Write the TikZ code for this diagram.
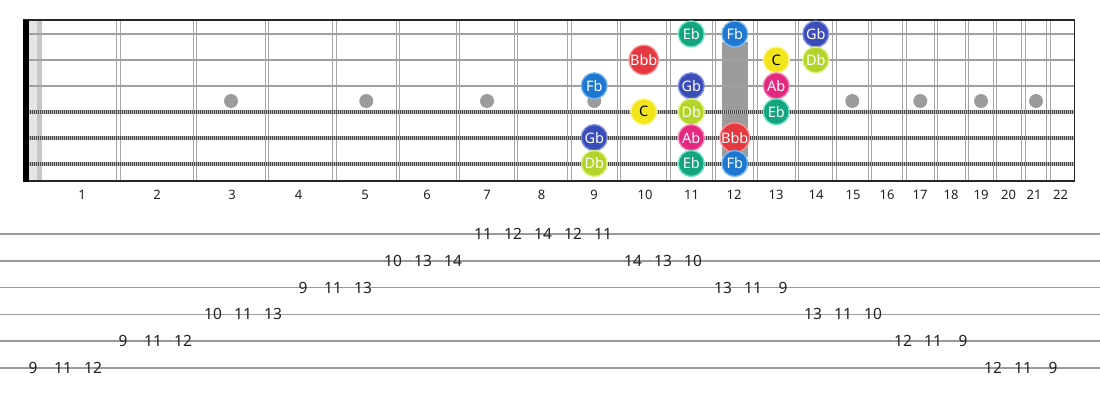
\documentclass[tikz,border=0pt]{standalone}
\usepackage{fontspec}
\setmainfont{Noto Sans}
\definecolor{ebc}{HTML}{14A57E}\definecolor{ebr}{HTML}{6FE6C6}
\definecolor{fbc}{HTML}{1E78D2}\definecolor{fbr}{HTML}{7DBAF2}
\definecolor{gbc}{HTML}{3B4DB8}\definecolor{gbr}{HTML}{8593E2}
\definecolor{bbbc}{HTML}{E5383F}\definecolor{bbbr}{HTML}{F7979A}
\definecolor{cc}{HTML}{F3E51C}\definecolor{cr}{HTML}{FFF69A}
\definecolor{dbc}{HTML}{B3D52B}\definecolor{dbr}{HTML}{E0F285}
\definecolor{abc}{HTML}{E4287F}\definecolor{abr}{HTML}{F38CBC}
\definecolor{fretc}{HTML}{A6A6A6}
\definecolor{strc}{HTML}{A0A0A0}
\definecolor{inlay}{HTML}{9C9C9C}
\definecolor{tabc}{HTML}{9A9A9A}
\definecolor{txt}{HTML}{222222}
\begin{document}
\begin{tikzpicture}[x=1pt,y=-1pt,
  note/.style={circle, minimum size=26pt, inner sep=0pt, line width=1.3pt, text=white,
    font=\fontsize{14.5}{14.5}\selectfont},
  notec/.style={note, fill=#1c, draw=#1r},
  fretnum/.style={font=\fontsize{13}{13}\selectfont, text=txt, inner sep=0pt},
  tabnum/.style={font=\fontsize{15.5}{15.5}\selectfont, text=txt, inner sep=0pt},
  fretline/.style={draw=fretc, line width=1.3pt},
  plainstr/.style={draw=strc, line width=2.6pt},
  woundbase/.style={draw=strc!75, line width=4pt},
  woundtex/.style={draw=strc!45!black, line width=4pt, dash pattern=on 0.9pt off 1.1pt},
  tabline/.style={draw=tabc, line width=1.5pt},
  dot/.style={circle, fill=inlay, minimum size=14pt, inner sep=0pt}]
\useasboundingbox (0,0) rectangle (1100,400);
% nut area
\fill[black!10] (28.5,20) rectangle (37,181);
\fill[black!22] (37,20) rectangle (42,181);
% frets
\foreach \x in {118.5,195,267,334.5,398,458,516,569.5,619,668.5,714,755.5,797,834.5,870,904.5,936,967,995,1023.5,1048.5}
  {\draw[fretline] (\x-1.7,20) -- (\x-1.7,181);
   \draw[fretline] (\x+1.7,20) -- (\x+1.7,181);}
% inlays
\foreach \x/\n in {231/3,366.25/5,487/7,594.25/9,852.25/15,920.25/17,981/19,1036/21}
  \node[dot] (inl\n) at (\x,101) {};
\fill[inlay] (722,42) rectangle (748,157);
% strings
\foreach \s in {1,2,3}
  \draw[plainstr] (28,{34+25.9*(\s-1)}) -- (1074,{34+25.9*(\s-1)});
\foreach \s in {4,5,6}
  {\draw[woundbase] (28,{34+25.9*(\s-1)}) -- (1074,{34+25.9*(\s-1)});
   \draw[woundtex] (28,{34+25.9*(\s-1)}) -- (1074,{34+25.9*(\s-1)});}
% border
\draw[black!85, line width=1.5pt] (23,20) -- (1075,20);
\draw[black!85, line width=1.5pt] (23,181) -- (1075,181);
\draw[black!85, line width=1.3pt] (1074.5,20) -- (1074.5,181);
\fill[black] (23,19.5) rectangle (28.5,181.5);
% fret numbers
\foreach \x [count=\n] in {82,157,232,298.5,365,427,487,541.5,594,645,691.5,734,776,816,853,887,920,951,981,1008.5,1034,1060.5}
  \node[fretnum] (fn\n) at (\x,194.5) {\n};
% notes
\node[notec=eb] (n1a) at (691.25,34) {Eb};
\node[notec=fb] (n1b) at (734.75,34) {Fb};
\node[notec=gb] (n1c) at (815.75,34) {Gb};
\node[notec=bbb] (n2a) at (643.75,59.9) {Bbb};
\node[notec=c, text=black] (n2b) at (776.25,59.9) {C};
\node[notec=db] (n2c) at (815.75,59.9) {Db};
\node[notec=fb] (n3a) at (594.25,85.8) {Fb};
\node[notec=gb] (n3b) at (691.25,85.8) {Gb};
\node[notec=ab] (n3c) at (776.25,85.8) {Ab};
\node[notec=c, text=black] (n4a) at (643.75,111.7) {C};
\node[notec=db] (n4b) at (691.25,111.7) {Db};
\node[notec=eb] (n4c) at (776.25,111.7) {Eb};
\node[notec=gb] (n5a) at (594.25,137.6) {Gb};
\node[notec=ab] (n5b) at (691.25,137.6) {Ab};
\node[notec=bbb] (n5c) at (734.75,137.6) {Bbb};
\node[notec=db] (n6a) at (594.25,163.5) {Db};
\node[notec=eb] (n6b) at (691.25,163.5) {Eb};
\node[notec=fb] (n6c) at (734.75,163.5) {Fb};
% tab lines
\foreach \s in {1,...,6}
  \draw[tabline] (0,{234+26.8*(\s-1)}) -- (1100,{234+26.8*(\s-1)});
% tab numbers
\foreach \s/\f [count=\i from 0] in {6/9,6/11,6/12,5/9,5/11,5/12,4/10,4/11,4/13,3/9,3/11,3/13,2/10,2/13,2/14,1/11,1/12,1/14,1/12,1/11,2/14,2/13,2/10,3/13,3/11,3/9,4/13,4/11,4/10,5/12,5/11,5/9,6/12,6/11,6/9}
  \node[tabnum] (t\i) at ({33+30*\i},{234+26.8*(\s-1)}) {\f};
\end{tikzpicture}
\end{document}
